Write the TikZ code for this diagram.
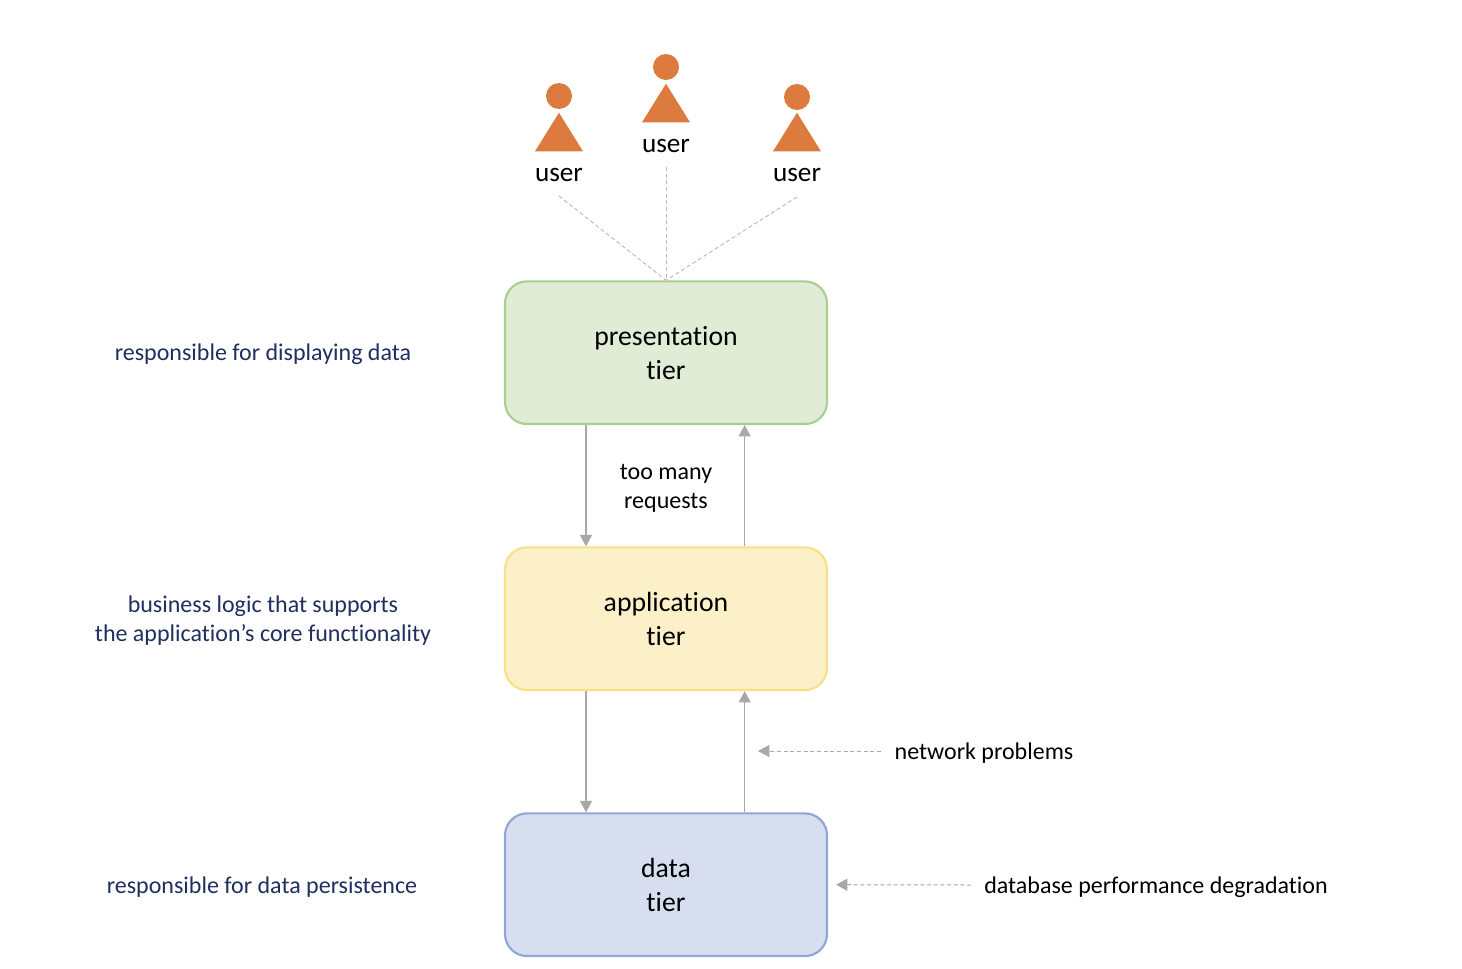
\documentclass[tikz,border=0pt]{standalone}
\usepackage{fontspec}
\setmainfont{Carlito}[Ligatures=NoCommon]
\usetikzlibrary{shapes.geometric, arrows.meta, positioning}
\definecolor{personorange}{HTML}{DD7A3E}
\definecolor{notenavy}{HTML}{1F2F5F}
\definecolor{linegray}{HTML}{A8A8A8}
\definecolor{dashgray}{HTML}{BDBDBD}
\definecolor{presfill}{HTML}{E0ECD5}
\definecolor{presline}{HTML}{A9CF8F}
\definecolor{appfill}{HTML}{FBF0C8}
\definecolor{appline}{HTML}{FADF85}
\definecolor{datafill}{HTML}{D7DEEF}
\definecolor{dataline}{HTML}{90A6D6}
\tikzstyle{arrow} = [line width=0.9pt, draw=linegray, -{Triangle[length=8.5pt,width=9pt]}]
\tikzstyle{dasharrow} = [line width=0.75pt, draw=linegray, densely dashed, -{Triangle[length=8.5pt,width=9pt]}]
\tikzstyle{dashline} = [line width=0.75pt, draw=dashgray, densely dashed]
\tikzstyle{tier} = [rectangle, rounded corners=16.5pt, minimum width=241.5pt, minimum height=107pt, text width=200pt, align=center, line width=1.6pt, font=\fontsize{20.8}{25.5}\selectfont, node distance=199.5pt]
\tikzstyle{head} = [circle, fill=personorange, minimum size=19.5pt, inner sep=0pt]
\tikzstyle{body} = [isosceles triangle, isosceles triangle stretches, shape border rotate=90, fill=personorange, minimum width=36pt, minimum height=29pt, inner sep=0pt, anchor=apex]
\tikzstyle{person} = [font=\fontsize{20.4}{24}\selectfont, inner sep=0pt]
\tikzstyle{note} = [align=center, text=notenavy, font=\fontsize{18}{21.75}\selectfont, inner sep=0pt, yshift=-1.5pt]
\tikzstyle{remark} = [align=center, font=\fontsize{18}{21.75}\selectfont, inner sep=0pt]

\begin{document}
\begin{tikzpicture}[x=0.75pt, y=-0.75pt]
\useasboundingbox (0,0) rectangle (1462,968);

% Tiers:
\node(pres)[tier, draw=presline, fill=presfill] at (666,352.7)
{presentation\\tier};
\node(app)[tier, draw=appline, fill=appfill, below of=pres]
{application\\tier};
\node(data)[tier, draw=dataline, fill=datafill, below of=app]
{data\\tier};

% Users:
\node(head1)[head] at (559,96) {};
\node(body1)[body] at (559,112) {};
\node(user1)[person] at (559,175) {user};
\node(head2)[head] at (666,67) {};
\node(body2)[body] at (666,83) {};
\node(user2)[person] at (666,146) {user};
\node(head3)[head] at (797,97) {};
\node(body3)[body] at (797,112) {};
\node(user3)[person] at (797,175) {user};

\coordinate(link1) at (559,196);
\coordinate(link2) at (666,167);
\coordinate(link3) at (797,197);
\draw[dashline] (link1) -- (pres.north);
\draw[dashline] (link2) -- (pres.north);
\draw[dashline] (link3) -- (pres.north);

% Arrows between tiers:
\draw[arrow] ([xshift=-60pt]pres.south) -- ([xshift=-60pt]app.north);
\draw[arrow] ([xshift=59pt]app.north) -- ([xshift=59pt]pres.south);
\draw[arrow] ([xshift=-60pt]app.south) -- ([xshift=-60pt]data.north);
\draw[arrow] ([xshift=59pt]data.north) -- ([xshift=59pt]app.south);

\node(load)[remark, below of=pres, node distance=102pt] {too many\\requests};

% Descriptions:
\node(noteP)[note, left of=pres, node distance=302.25pt] {responsible for displaying data};
\node(noteA)[note, left of=app, node distance=302.25pt] {business logic that supports\\the application’s core functionality};
\node(noteD)[note, left of=data, node distance=303pt] {responsible for data persistence};

% Problems:
\node(net)[remark] at (984,753) {network problems};
\coordinate(netstart) at (881,751);
\coordinate(netend) at (758,751);
\draw[dasharrow] (netstart) -- (netend);
\node(db)[remark] at (1156,887) {database performance degradation};
\coordinate(dbstart) at (971,885);
\draw[dasharrow] (dbstart) -- ([xshift=6pt]data.east);

\end{tikzpicture}
\end{document}
